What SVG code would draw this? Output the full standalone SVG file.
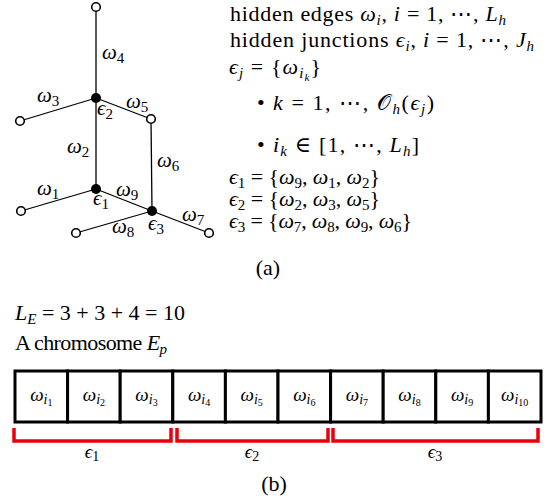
<svg xmlns="http://www.w3.org/2000/svg" width="552" height="502" viewBox="0 0 552 502">
<style>
text{font-family:"Liberation Serif","DejaVu Serif",serif;font-size:22px;fill:#000}
.g{font-size:21px}
.i{font-style:italic}
.s{font-size:15px}
.ss{font-size:11px}
.lb{font-size:19px}
.lb .s{font-size:14px}
.lb .ss{font-size:10px}
.edge{stroke:#000;stroke-width:1.3;fill:none}
.open{fill:#fff;stroke:#000;stroke-width:1.6}
.junc{fill:#000}
.cell{fill:#fff;stroke:#000;stroke-width:3}
.brace{fill:none;stroke:#e8000b;stroke-width:3.5}
</style>
<g id="connectors">
<line class="edge" x1="96" y1="7" x2="96" y2="98"/>
<line class="edge" x1="96" y1="98" x2="20" y2="121"/>
<line class="edge" x1="96" y1="98" x2="151" y2="119"/>
<line class="edge" x1="151" y1="119" x2="152" y2="211"/>
<line class="edge" x1="96" y1="98" x2="96" y2="189"/>
<line class="edge" x1="96" y1="189" x2="21" y2="211"/>
<line class="edge" x1="96" y1="189" x2="152" y2="211"/>
<line class="edge" x1="152" y1="211" x2="76" y2="233"/>
<line class="edge" x1="152" y1="211" x2="209" y2="233"/>
</g>
<g id="nodes">
<circle id="n-top" class="open" cx="96" cy="7" r="4.3"/>
<circle id="n-left3" class="open" cx="20" cy="121" r="4.3"/>
<circle id="n-right5" class="open" cx="151" cy="119" r="4.3"/>
<circle id="n-left1" class="open" cx="21" cy="211" r="4.3"/>
<circle id="n-w8" class="open" cx="76" cy="233" r="4.3"/>
<circle id="n-w7" class="open" cx="209" cy="233" r="4.3"/>
<circle id="e2" class="junc" cx="96" cy="98" r="5"/>
<circle id="e1" class="junc" cx="96" cy="189" r="5"/>
<circle id="e3" class="junc" cx="152" cy="211" r="5"/>
</g>
<g id="graph-labels">
<text class="g" x="102" y="59"><tspan class="i">ω</tspan><tspan class="s" dy="4">4</tspan></text>
<text class="g" x="37" y="102"><tspan class="i">ω</tspan><tspan class="s" dy="4">3</tspan></text>
<text class="g" x="97" y="115"><tspan class="i">ϵ</tspan><tspan class="s" dy="4">2</tspan></text>
<text class="g" x="126" y="108"><tspan class="i">ω</tspan><tspan class="s" dy="4">5</tspan></text>
<text class="g" x="67" y="153"><tspan class="i">ω</tspan><tspan class="s" dy="4">2</tspan></text>
<text class="g" x="157" y="167"><tspan class="i">ω</tspan><tspan class="s" dy="4">6</tspan></text>
<text class="g" x="37" y="195"><tspan class="i">ω</tspan><tspan class="s" dy="4">1</tspan></text>
<text class="g" x="93" y="205"><tspan class="i">ϵ</tspan><tspan class="s" dy="4">1</tspan></text>
<text class="g" x="116" y="196"><tspan class="i">ω</tspan><tspan class="s" dy="4">9</tspan></text>
<text class="g" x="182" y="221"><tspan class="i">ω</tspan><tspan class="s" dy="4">7</tspan></text>
<text class="g" x="112" y="233"><tspan class="i">ω</tspan><tspan class="s" dy="4">8</tspan></text>
<text class="g" x="148" y="230"><tspan class="i">ϵ</tspan><tspan class="s" dy="4">3</tspan></text>
</g>
<g id="definitions">
<text x="230" y="21" textLength="276" lengthAdjust="spacing">hidden edges <tspan class="i">ω</tspan><tspan class="s i" dy="4">i</tspan><tspan dy="-4">, </tspan><tspan class="i">i</tspan> = 1, ⋯, <tspan class="i">L</tspan><tspan class="s i" dy="4">h</tspan></text>
<text x="230" y="47" textLength="304" lengthAdjust="spacing">hidden junctions <tspan class="i">ϵ</tspan><tspan class="s i" dy="4">i</tspan><tspan dy="-4">, </tspan><tspan class="i">i</tspan> = 1, ⋯, <tspan class="i">J</tspan><tspan class="s i" dy="4">h</tspan></text>
<text x="229" y="74" textLength="92" lengthAdjust="spacing"><tspan class="i">ϵ</tspan><tspan class="s i" dy="4">j</tspan><tspan dy="-4"> = {</tspan><tspan class="i">ω</tspan><tspan class="s i" dy="4">i</tspan><tspan class="ss i" dy="3">k</tspan><tspan dy="-7">}</tspan></text>
<text x="257" y="110">•</text>
<text x="273" y="110" textLength="161" lengthAdjust="spacing"><tspan class="i">k</tspan> = 1, ⋯, 𝒪<tspan class="s i" dy="4">h</tspan><tspan dy="-4">(</tspan><tspan class="i">ϵ</tspan><tspan class="s i" dy="4">j</tspan><tspan dy="-4">)</tspan></text>
<text x="257" y="152">•</text>
<text x="273" y="152" textLength="146" lengthAdjust="spacing"><tspan class="i">i</tspan><tspan class="s i" dy="4">k</tspan><tspan dy="-4"> ∈ [1, ⋯, </tspan><tspan class="i">L</tspan><tspan class="s i" dy="4">h</tspan><tspan dy="-4">]</tspan></text>
<text x="229" y="184" textLength="151" lengthAdjust="spacing"><tspan class="i">ϵ</tspan><tspan class="s" dy="4">1</tspan><tspan dy="-4"> = {</tspan><tspan class="i">ω</tspan><tspan class="s" dy="4">9</tspan><tspan dy="-4">, </tspan><tspan class="i">ω</tspan><tspan class="s" dy="4">1</tspan><tspan dy="-4">, </tspan><tspan class="i">ω</tspan><tspan class="s" dy="4">2</tspan><tspan dy="-4">}</tspan></text>
<text x="229" y="206" textLength="151" lengthAdjust="spacing"><tspan class="i">ϵ</tspan><tspan class="s" dy="4">2</tspan><tspan dy="-4"> = {</tspan><tspan class="i">ω</tspan><tspan class="s" dy="4">2</tspan><tspan dy="-4">, </tspan><tspan class="i">ω</tspan><tspan class="s" dy="4">3</tspan><tspan dy="-4">, </tspan><tspan class="i">ω</tspan><tspan class="s" dy="4">5</tspan><tspan dy="-4">}</tspan></text>
<text x="229" y="228" textLength="183" lengthAdjust="spacing"><tspan class="i">ϵ</tspan><tspan class="s" dy="4">3</tspan><tspan dy="-4"> = {</tspan><tspan class="i">ω</tspan><tspan class="s" dy="4">7</tspan><tspan dy="-4">, </tspan><tspan class="i">ω</tspan><tspan class="s" dy="4">8</tspan><tspan dy="-4">, </tspan><tspan class="i">ω</tspan><tspan class="s" dy="4">9</tspan><tspan dy="-4">, </tspan><tspan class="i">ω</tspan><tspan class="s" dy="4">6</tspan><tspan dy="-4">}</tspan></text>
</g>
<text x="268" y="275" text-anchor="middle">(a)</text>
<g id="chromosome-text">
<text x="15" y="320" textLength="170" lengthAdjust="spacing"><tspan class="i">L</tspan><tspan class="s i" dy="4">E</tspan><tspan dy="-4"> = 3 + 3 + 4 = 10</tspan></text>
<text x="15" y="350" textLength="152" lengthAdjust="spacing">A chromosome <tspan class="i">E</tspan><tspan class="s i" dy="4">p</tspan></text>
</g>
<g id="chromosome">
<rect class="cell" x="15" y="371" width="52.6" height="51"/>
<rect class="cell" x="67.6" y="371" width="52.6" height="51"/>
<rect class="cell" x="120.2" y="371" width="52.6" height="51"/>
<rect class="cell" x="172.8" y="371" width="52.6" height="51"/>
<rect class="cell" x="225.4" y="371" width="52.6" height="51"/>
<rect class="cell" x="278" y="371" width="52.6" height="51"/>
<rect class="cell" x="330.6" y="371" width="52.6" height="51"/>
<rect class="cell" x="383.2" y="371" width="52.6" height="51"/>
<rect class="cell" x="435.8" y="371" width="52.6" height="51"/>
<rect class="cell" x="488.4" y="371" width="52.6" height="51"/>
<text class="lb" x="41.3" y="401" text-anchor="middle"><tspan class="i">ω</tspan><tspan class="s i" dy="3">i</tspan><tspan class="ss" dy="2">1</tspan></text>
<text class="lb" x="93.9" y="401" text-anchor="middle"><tspan class="i">ω</tspan><tspan class="s i" dy="3">i</tspan><tspan class="ss" dy="2">2</tspan></text>
<text class="lb" x="146.5" y="401" text-anchor="middle"><tspan class="i">ω</tspan><tspan class="s i" dy="3">i</tspan><tspan class="ss" dy="2">3</tspan></text>
<text class="lb" x="199.1" y="401" text-anchor="middle"><tspan class="i">ω</tspan><tspan class="s i" dy="3">i</tspan><tspan class="ss" dy="2">4</tspan></text>
<text class="lb" x="251.7" y="401" text-anchor="middle"><tspan class="i">ω</tspan><tspan class="s i" dy="3">i</tspan><tspan class="ss" dy="2">5</tspan></text>
<text class="lb" x="304.3" y="401" text-anchor="middle"><tspan class="i">ω</tspan><tspan class="s i" dy="3">i</tspan><tspan class="ss" dy="2">6</tspan></text>
<text class="lb" x="356.9" y="401" text-anchor="middle"><tspan class="i">ω</tspan><tspan class="s i" dy="3">i</tspan><tspan class="ss" dy="2">7</tspan></text>
<text class="lb" x="409.5" y="401" text-anchor="middle"><tspan class="i">ω</tspan><tspan class="s i" dy="3">i</tspan><tspan class="ss" dy="2">8</tspan></text>
<text class="lb" x="462.1" y="401" text-anchor="middle"><tspan class="i">ω</tspan><tspan class="s i" dy="3">i</tspan><tspan class="ss" dy="2">9</tspan></text>
<text class="lb" x="514.7" y="401" text-anchor="middle"><tspan class="i">ω</tspan><tspan class="s i" dy="3">i</tspan><tspan class="ss" dy="2">10</tspan></text>
</g>
<g id="groups">
<polyline class="brace" points="14,428 14,441 171,441 171,428"/>
<polyline class="brace" points="177,428 177,441 328,441 328,428"/>
<polyline class="brace" points="333,428 333,441 538,441 538,428"/>
<text class="lb" x="92" y="458" text-anchor="middle"><tspan class="i">ϵ</tspan><tspan class="s" dy="3">1</tspan></text>
<text class="lb" x="252" y="458" text-anchor="middle"><tspan class="i">ϵ</tspan><tspan class="s" dy="3">2</tspan></text>
<text class="lb" x="435" y="458" text-anchor="middle"><tspan class="i">ϵ</tspan><tspan class="s" dy="3">3</tspan></text>
</g>
<text x="274" y="491" text-anchor="middle">(b)</text>
</svg>
